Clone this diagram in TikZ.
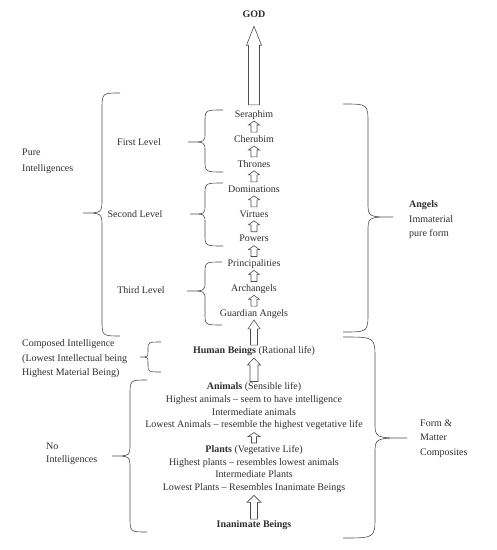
\documentclass[tikz,border=0pt]{standalone}
\usepackage{fontspec}
\setmainfont{Liberation Serif}
\usetikzlibrary{calc}
\definecolor{ink}{gray}{0.18}
\definecolor{lineink}{gray}{0.3}
\tikzset{
  tier/.style={inner sep=1pt, text height=7pt, text depth=2pt, font=\fontsize{10}{12}\selectfont, text=ink},
  tierblock/.style={inner sep=1pt, align=center, font=\fontsize{10}{12.7}\selectfont, text=ink},
  sidelabel/.style={inner sep=1pt, align=left, anchor=north west, text=ink},
  blockarrow/.style={draw=lineink, line width=0.6pt, line join=miter},
  bracket/.style={draw=lineink, line width=0.6pt},
}
% #1 lower node, #2 upper node, #3 bottom gap, #4 top gap, #5 shaft half width, #6 head half width, #7 head length
\newcommand\hollowarrow[7]{%
  \draw[blockarrow] let \p1=(#1.north), \p2=(#2.south) in
   (\x1-#5pt,\y1+#3pt) -- (\x1-#5pt,\y2-#4pt-#7pt) -- (\x1-#6pt,\y2-#4pt-#7pt)
   -- (\x1,\y2-#4pt) -- (\x1+#6pt,\y2-#4pt-#7pt) -- (\x1+#5pt,\y2-#4pt-#7pt)
   -- (\x1+#5pt,\y1+#3pt) -- cycle;}
% #1 x end, #2 x vertical, #3 x tip, #4 y top, #5 y mid, #6 y bottom, #7 end curve, #8 tip curve
\newcommand\curlybrace[8]{%
  \draw[bracket] (#1,#4) .. controls (#2,#4) .. (#2,{#4+#7}) -- (#2,{#5-#8})
    .. controls (#2,#5) .. (#3,#5) .. controls (#2,#5) .. (#2,{#5+#8})
    -- (#2,{#6-#7}) .. controls (#2,#6) .. (#1,#6);}
\begin{document}
\begin{tikzpicture}[x=1pt,y=-1pt]
\useasboundingbox (0,0) rectangle (497,550);
% central column
\node[tier, font=\fontsize{10}{12}\selectfont\bfseries] (god) at (254,14.8) {GOD};
\node[tier] (ser) at (254,114.8) {Seraphim};
\node[tier] (che) at (254,139.8) {Cherubim};
\node[tier] (thr) at (254,164.6) {Thrones};
\node[tier] (dom) at (254,189.6) {Dominations};
\node[tier] (vir) at (254,214.6) {Virtues};
\node[tier] (pow) at (254,239.4) {Powers};
\node[tier] (pri) at (254,264.2) {Principalities};
\node[tier] (arc) at (254,289.2) {Archangels};
\node[tier] (gua) at (254,313.8) {Guardian Angels};
\node[tier] (hum) at (254,350.8) {\textbf{Human Beings} (Rational life)};
\node[tierblock, anchor=north] (ani) at (254,381.5) {\textbf{Animals} (Sensible life)\\Highest animals -- seem to have intelligence\\Intermediate animals\\Lowest Animals -- resemble the highest vegetative life};
\node[tierblock, anchor=north] (pla) at (254,444.3) {\textbf{Plants} (Vegetative Life)\\Highest plants -- resembles lowest animals\\Intermediate Plants\\Lowest Plants -- Resembles Inanimate Beings};
\node[tier] (ina) at (254,524.8) {\textbf{Inanimate Beings}};
% arrows
\hollowarrow{ser}{god}{4.3}{5.7}{5.5}{7.5}{19}
\hollowarrow{che}{ser}{2}{0.5}{3}{5.5}{4}
\hollowarrow{thr}{che}{2}{0.5}{3}{5.5}{4}
\hollowarrow{dom}{thr}{2}{0.5}{3}{5.5}{4}
\hollowarrow{vir}{dom}{2}{0.5}{3}{5.5}{4}
\hollowarrow{pow}{vir}{2}{0.5}{3}{5.5}{4}
\hollowarrow{pri}{pow}{2}{0.5}{3}{5.5}{4}
\hollowarrow{arc}{pri}{2}{0.5}{3}{5.5}{4}
\hollowarrow{gua}{arc}{2}{0.5}{3}{5.5}{4}
\hollowarrow{hum}{gua}{0}{0.3}{3.5}{6}{9}
\hollowarrow{ani}{hum}{0}{1.5}{4}{6.5}{7}
\hollowarrow{pla}{ani}{1.3}{1.4}{2.5}{6}{4}
\hollowarrow{ina}{pla}{0}{1.4}{3.5}{7}{7}
% level labels and braces
\node[tier] (lev1) at (139,142.8) {First Level};
\node[tier] (lev2) at (135,214.8) {Second Level};
\node[tier] (lev3) at (141,290.8) {Third Level};
\curlybrace{223}{205}{188}{110}{142}{172}{12}{9}
\curlybrace{223}{205}{190}{183}{214}{246}{12}{9}
\curlybrace{222}{205}{187}{262}{291}{325}{12}{9}
% left big brace
\node[sidelabel, font=\fontsize{10}{16}\selectfont] (pure) at (21,147.5) {Pure\\Intelligences};
\curlybrace{120}{102}{83}{93}{213}{336}{17}{15}
% right angels brace
\curlybrace{343}{368}{393}{104}{217}{332}{20}{15}
\node[sidelabel, font=\fontsize{10}{14.5}\selectfont] (ang) at (408,199.5) {\textbf{Angels}\\Immaterial\\pure form};
% composed intelligence
\node[sidelabel, font=\fontsize{10}{14.5}\selectfont] (comp) at (21,338.5) {Composed Intelligence\\(Lowest Intellectual being\\Highest Material Being)};
\curlybrace{161}{148}{140}{342}{357}{372}{8}{6}
% form & matter
\curlybrace{343}{375}{407}{337}{438}{538}{22}{16}
\node[sidelabel, font=\fontsize{10}{14.5}\selectfont] (form) at (419,418.5) {Form \&\\Matter\\Composites};
% no intelligences
\curlybrace{147}{130}{112}{380}{456}{532}{16}{13}
\node[sidelabel, font=\fontsize{10}{13}\selectfont] (noint) at (45,441.5) {No\\Intelligences};
\end{tikzpicture}
\end{document}
